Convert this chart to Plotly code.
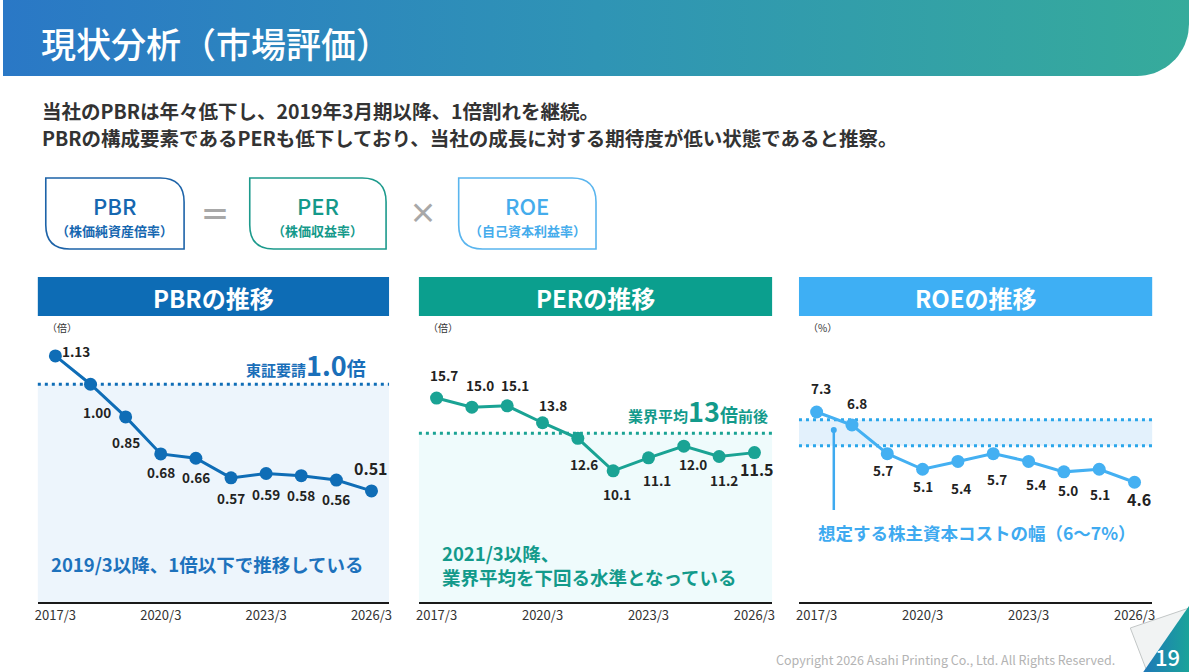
import numpy as np
import plotly.graph_objects as go

W, H = 1192, 672
FONT = "Noto Sans CJK JP"

# ---- data ----
years = ["2017/3", "2018/3", "2019/3", "2020/3", "2021/3",
         "2022/3", "2023/3", "2024/3", "2025/3", "2026/3"]
tick_years = ["2017/3", "2020/3", "2023/3", "2026/3"]
pbr = [1.13, 1.00, 0.85, 0.68, 0.66, 0.57, 0.59, 0.58, 0.56, 0.51]
per = [15.7, 15.0, 15.1, 13.8, 12.6, 10.1, 11.1, 12.0, 11.2, 11.5]
roe = [7.3, 6.8, 5.7, 5.1, 5.4, 5.7, 5.4, 5.0, 5.1, 4.6]
pbr_target = 1.0        # 東証要請
per_industry = 13       # 業界平均
roe_cost = [6, 7]       # 想定する株主資本コストの幅

# where each value label sits relative to its point (px right, px up)
pbr_off = [(21, 5), (6, -28), (0, -25), (0, -18), (0, -19),
           (0, -20), (0, -20), (0, -19), (0, -19), (0, 23)]
per_off = [(7, 23), (8, 22), (8, 21), (10, 18), (6, -26),
           (4, -23), (9, -22), (9, -18), (5, -23), (3, -16)]
roe_off = [(4, 24), (5, 22), (-4, -16), (0, -17), (3, -27),
           (4, -25), (7, -23), (4, -18), (1, -25), (4, -17)]

panels = [
    dict(vals=pbr, off=pbr_off, fmt="{:.2f}", x0=35, x1=388, ymax=1.249,
         color="#0f6db6", head="#0d6cb5", fill="#edf5fc",
         title="PBRの推移", unit="（倍）"),
    dict(vals=per, off=per_off, fmt="{:.1f}", x0=418, x1=773, ymax=20.94,
         color="#1aa394", head="#0b9f8e", fill="#effbfc",
         title="PERの推移", unit="（倍）"),
    dict(vals=roe, off=roe_off, fmt="{:.1f}", x0=800, x1=1155, ymax=10.45,
         color="#44b0f2", head="#3eaff4", fill="#e3f1fc",
         title="ROEの推移", unit="（%）"),
]
PLOT_TOP, PLOT_BOT = 330, 602

fig = go.Figure()
shapes, annos = [], []
layout = {}


def page_anno(x, y, text, size, color, anchor="left", weight=400, **kw):
    annos.append(dict(xref="x4", yref="y4", x=x, y=y, text=text, showarrow=False,
                      xanchor=anchor, yanchor="middle",
                      font=dict(family=FONT, size=size, color=color, weight=weight), **kw))


# ---- page background pieces (banner, corner) on a hidden pixel axis ----
ang = np.linspace(0, np.pi / 2, 20)
r = 52
bx = [0, W, W] + list(W - r + r * np.cos(ang)) + [0]
by = [0, 0, 24] + list(76 - r + r * np.sin(ang)) + [76]
fig.add_trace(go.Scatter(
    x=bx, y=by, mode="lines", fill="toself", line=dict(width=0),
    fillgradient=dict(type="horizontal",
                      colorscale=[[0, "#2a78c6"], [0.5, "#2f94b5"], [1, "#36ab9b"]]),
    xaxis="x4", yaxis="y4", hoverinfo="skip"))

# page curl at bottom right
fig.add_trace(go.Scatter(
    x=[1133, 1192, 1150, 1133], y=[628, 608, 672, 628], mode="lines", fill="toself",
    fillcolor="#f1f3f3", line=dict(color="#c2c6c6", width=1),
    xaxis="x4", yaxis="y4", hoverinfo="skip"))
fig.add_trace(go.Scatter(
    x=[1146, 1192, 1192, 1146], y=[672, 606, 672, 672], mode="lines", fill="toself",
    fillgradient=dict(type="horizontal", colorscale=[[0, "#1f78b8"], [1, "#1aa39a"]]),
    line=dict(width=0), xaxis="x4", yaxis="y4", hoverinfo="skip"))

layout["xaxis4"] = dict(domain=[0, 1], range=[0, W], visible=False, anchor="y4", fixedrange=True)
layout["yaxis4"] = dict(domain=[0, 1], range=[H, 0], visible=False, anchor="x4", fixedrange=True)

page_anno(36, 42, "現状分析（市場評価）", 35, "white", weight=500)
page_anno(37, 110, "当社のPBRは年々低下し、2019年3月期以降、1倍割れを継続。", 19.5, "#333333", weight=700)
page_anno(37, 137, "PBRの構成要素であるPERも低下しており、当社の成長に対する期待度が低い状態であると推察。",
          19.5, "#333333", weight=700)

# formula boxes
boxes = [(43, 182, "#1d63a8", "#1667b0", "PBR", "（株価純資産倍率）"),
         (248, 385, "#1c9a8c", "#14998a", "PER", "（株価収益率）"),
         (458, 596, "#5ab5ee", "#45acec", "ROE", "（自己資本利益率）")]
for x0, x1, border, tcol, big, small in boxes:
    y0, y1, rr = 178, 249, 24
    path = (f"M {x0},{y0} L {x1 - rr},{y0} Q {x1},{y0} {x1},{y0 + rr} L {x1},{y1} "
            f"L {x0 + rr},{y1} Q {x0},{y1} {x0},{y1 - rr} Z")
    shapes.append(dict(type="path", xref="x4", yref="y4", path=path,
                       line=dict(color=border, width=1.6), fillcolor="white"))
    cx = (x0 + x1) / 2
    page_anno(cx, 205, big, 22, tcol, anchor="center", weight=500)
    page_anno(cx, 230, small, 13, tcol, anchor="center", weight=700)
page_anno(213, 212, "＝", 30, "#a8a8a8", anchor="center", weight=700)
page_anno(422, 212, "×", 28, "#a8a8a8", anchor="center", weight=700)

# ---- the three charts ----
refs = [(pbr_target, pbr_target), (per_industry, per_industry), tuple(roe_cost)]
for i, p in enumerate(panels):
    n = "" if i == 0 else str(i + 1)
    xa, ya = "x" + n, "y" + n
    c = p["color"]

    # header bar
    shapes.append(dict(type="rect", xref="x4", yref="y4", x0=p["x0"], x1=p["x1"],
                       y0=277, y1=316, fillcolor=p["head"], line=dict(width=0)))
    page_anno((p["x0"] + p["x1"]) / 2, 297, p["title"], 24, "white", anchor="center", weight=700)
    page_anno(p["x0"] + 7, 327, p["unit"], 10, "#333333")

    lo, hi = refs[i]
    fill_lo = 0 if lo == hi else lo
    shapes.append(dict(type="rect", xref=xa + " domain", yref=ya, x0=0, x1=1,
                       y0=fill_lo, y1=hi, fillcolor=p["fill"], line=dict(width=0), layer="below"))
    for v in sorted(set([lo, hi])):
        shapes.append(dict(type="line", xref=xa + " domain", yref=ya, x0=0, x1=1, y0=v, y1=v,
                           line=dict(color=c if i != 2 else "#2aa6ea", width=3, dash="3px,4px"),
                           layer="below"))

    fig.add_trace(go.Scatter(x=years, y=p["vals"], mode="lines+markers",
                             line=dict(color=c, width=3), marker=dict(size=13, color=c),
                             xaxis=xa, yaxis=ya, hoverinfo="skip"))

    for j, (v, (dx, dy)) in enumerate(zip(p["vals"], p["off"])):
        last = j == len(p["vals"]) - 1
        annos.append(dict(xref=xa, yref=ya, x=years[j], y=v, text=p["fmt"].format(v),
                          showarrow=False, xshift=dx, yshift=dy,
                          font=dict(family=FONT, size=16 if last else 13.5, color="#222222",
                                    weight=700)))

    layout["xaxis" + n] = dict(domain=[p["x0"] / W, p["x1"] / W], range=[-0.5, 9.5],
                               type="category", anchor=ya, tickvals=tick_years,
                               ticktext=tick_years, showgrid=False, zeroline=False,
                               showline=True, linecolor="#1a1a1a", linewidth=2, ticks="",
                               tickfont=dict(family=FONT, size=13, color="#333333"),
                               fixedrange=True)
    layout["yaxis" + n] = dict(domain=[1 - PLOT_BOT / H, 1 - PLOT_TOP / H],
                               range=[0, p["ymax"]], visible=False, anchor=xa, fixedrange=True)

# chart callouts
page_anno(367, 364,
          "東証要請<span style='font-size:27px'>1.0</span><span style='font-size:19px'>倍</span>",
          15, "#1a6fb9", anchor="right", weight=700)
page_anno(46, 564, "2019/3以降、1倍以下で推移している", 18.5, "#1d72bc", weight=700)

page_anno(771, 410,
          "業界平均<span style='font-size:27px'>13</span><span style='font-size:18px'>倍</span>前後",
          15, "#139a8b", anchor="right", weight=700)
page_anno(439, 553, "2021/3以降、", 18.5, "#139a8b", weight=700)
page_anno(439, 577, "業界平均を下回る水準となっている", 18.5, "#139a8b", weight=700)

shapes.append(dict(type="line", xref="x4", yref="y4", x0=835, x1=835, y0=430, y1=510,
                   line=dict(color="#3eaaf0", width=2.5)))
shapes.append(dict(type="circle", xref="x4", yref="y4", x0=832, x1=838, y0=427, y1=433,
                   fillcolor="#3eaaf0", line=dict(width=0)))
page_anno(817, 532, "想定する株主資本コストの幅（6～7%）", 17.5, "#3eaaf0", weight=700)

# footer
page_anno(1120, 659, "Copyright 2026 Asahi Printing Co., Ltd. All Rights Reserved.", 12.5, "#b3b3b3",
          anchor="right")
page_anno(1170, 656, "19", 22, "white", anchor="center", weight=500)

fig.update_layout(width=W, height=H, margin=dict(l=0, r=0, t=0, b=0),
                  paper_bgcolor="white", plot_bgcolor="rgba(0,0,0,0)",
                  showlegend=False, shapes=shapes, annotations=annos,
                  font=dict(family=FONT), **layout)

fig.write_html("out.html", config={"displayModeBar": False},
               post_script="document.body.style.margin='0';")
